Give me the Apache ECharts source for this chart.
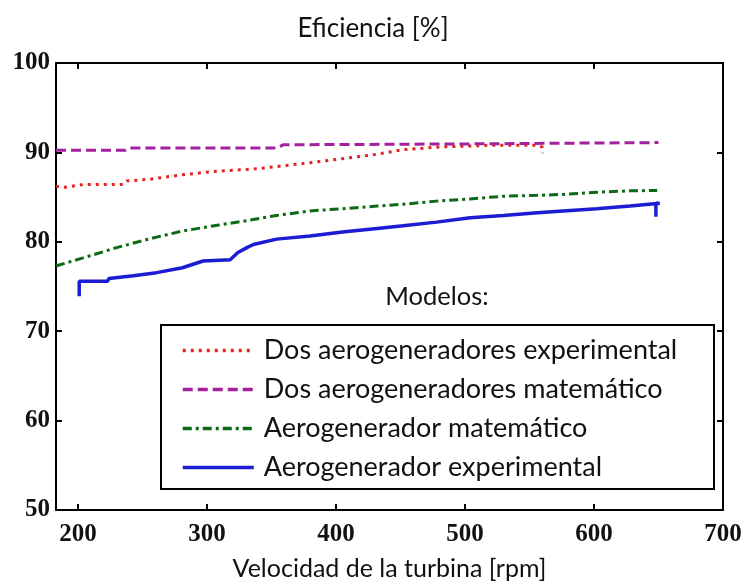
<!DOCTYPE html>
<html><head><meta charset="utf-8">
<script src="https://cdn.jsdelivr.net/npm/echarts@6/dist/echarts.min.js"></script>
<style>html,body{margin:0;padding:0;background:#fff}#c{width:746px;height:582px}</style>
</head><body><div id="c"></div>
<script>
var xTicks = [200, 300, 400, 500, 600, 700];
var yTicks = [50, 60, 70, 80, 90, 100];

var rpmDosExp = [183, 190, 204, 235, 238, 256, 281, 308, 341, 380, 405, 432, 452, 480, 520, 555, 560, 560];
var dosExp    = [86.2, 86.1, 86.4, 86.4, 86.8, 87.0, 87.5, 87.9, 88.2, 88.85, 89.3, 89.8, 90.3, 90.6, 90.8, 90.8, 90.6, 89.9];

var rpmDosMat = [183, 237, 240, 355, 359, 500, 650];
var dosMat    = [90.25, 90.25, 90.5, 90.5, 90.85, 90.95, 91.1];

var rpmAeroMat = [183, 204, 230, 256, 281, 308, 328, 354, 380, 405, 432, 452, 478, 504, 530, 556, 576, 602, 628, 649];
var aeroMat    = [77.3, 78.2, 79.35, 80.35, 81.2, 81.85, 82.3, 82.95, 83.45, 83.7, 84.0, 84.2, 84.55, 84.8, 85.1, 85.2, 85.3, 85.55, 85.7, 85.75];

var rpmAeroExp = [201, 201, 203, 223, 224, 243, 261, 281, 297, 318, 324, 331, 336, 354, 380, 405, 432, 452, 478, 504, 530, 556, 576, 602, 628, 651, 648, 648];
var aeroExp    = [73.9, 75.6, 75.6, 75.6, 75.9, 76.2, 76.55, 77.1, 77.85, 78.0, 78.8, 79.35, 79.7, 80.3, 80.65, 81.1, 81.5, 81.8, 82.2, 82.7, 82.95, 83.25, 83.45, 83.7, 84.0, 84.3, 84.3, 82.8];

var names = ['Dos aerogeneradores experimental', 'Dos aerogeneradores matemático', 'Aerogenerador matemático', 'Aerogenerador experimental'];

function pairs(xs, ys) { return xs.map(function (x, i) { return [x, ys[i]]; }); }

var sansFont = 'Lato, "Open Sans", sans-serif';
var serifFont = '"Liberation Serif", "DejaVu Serif", serif';

// pick a font size so a text fits a target width (layout only)
var mctx = document.createElement('canvas').getContext('2d');
function fitSize(text, target, weight) {
  mctx.font = (weight || 'normal') + ' 100px ' + sansFont;
  var w = mctx.measureText(text).width;
  return Math.round(100 * target / w * 2) / 2;
}
var titleSize = fitSize('Eficiencia [%]', 151);
var xNameSize = fitSize('Velocidad de la turbina [rpm]', 313);
var legendSize = fitSize(names[0], 410);
var modelosSize = fitSize('Modelos:', 103);

var chart = echarts.init(document.getElementById('c'), null, {renderer: 'canvas'});
var axisLine = {show: true, lineStyle: {color: '#000', width: 2}};
chart.setOption({
  animation: false,
  backgroundColor: '#fff',
  title: {
    text: 'Eficiencia [%]', left: 'center', top: 11,
    textStyle: {fontFamily: sansFont, fontSize: titleSize, fontWeight: 'normal', color: '#111'}
  },
  grid: {left: 56, right: 23, top: 63, bottom: 72, containLabel: false, outerBoundsMode: 'none'},
  xAxis: [{
    type: 'value', min: 183, max: 700,
    name: 'Velocidad de la turbina [rpm]', nameLocation: 'middle', nameGap: 46,
    nameTextStyle: {fontFamily: sansFont, fontSize: xNameSize, color: '#111'},
    axisLine: axisLine,
    axisTick: {show: true, inside: true, length: 6, customValues: xTicks, lineStyle: {color: '#000', width: 2}},
    axisLabel: {customValues: xTicks, fontFamily: serifFont, fontSize: 25, fontWeight: 'bold', color: '#111', margin: 12},
    splitLine: {show: false}
  }, {
    type: 'value', min: 183, max: 700, position: 'top',
    axisLine: axisLine,
    axisTick: {show: true, inside: true, length: 6, customValues: xTicks, lineStyle: {color: '#000', width: 2}},
    axisLabel: {show: false}, splitLine: {show: false}
  }],
  yAxis: [{
    type: 'value', min: 50, max: 100, interval: 10,
    axisLine: axisLine,
    axisTick: {show: true, inside: true, length: 6, lineStyle: {color: '#000', width: 2}},
    axisLabel: {fontFamily: serifFont, fontSize: 25, fontWeight: 'bold', color: '#111', margin: 6},
    splitLine: {show: false}
  }, {
    type: 'value', min: 50, max: 100, interval: 10, position: 'right',
    axisLine: axisLine,
    axisTick: {show: true, inside: true, length: 6, lineStyle: {color: '#000', width: 2}},
    axisLabel: {show: false}, splitLine: {show: false}
  }],
  legend: {
    orient: 'vertical', left: 176, top: 332, z: 10,
    itemWidth: 71, itemHeight: 14, itemGap: 12,
    data: names,
    itemStyle: {opacity: 0},
    lineStyle: {width: 3.5},
    textStyle: {fontFamily: sansFont, fontSize: legendSize, color: '#111', lineHeight: 26, padding: [0, 0, 0, 5]}
  },
  graphic: [
    {type: 'rect', shape: {x: 161, y: 325, width: 553, height: 164},
     style: {fill: '#fff', stroke: '#000', lineWidth: 2}, z: 1},
    {type: 'text', x: 437, y: 297,
     style: {text: 'Modelos:', fontFamily: sansFont, fontSize: modelosSize, fill: '#111', align: 'center', verticalAlign: 'middle'}, z: 5}
  ],
  series: [
    {name: names[0], type: 'line', data: pairs(rpmDosExp, dosExp), symbol: 'none', color: '#e3231d',
     lineStyle: {width: 3, type: [3, 5], color: '#e3231d'}},
    {name: names[1], type: 'line', data: pairs(rpmDosMat, dosMat), symbol: 'none', color: '#a3219f',
     lineStyle: {width: 3, type: [10, 5], color: '#a3219f'}},
    {name: names[2], type: 'line', data: pairs(rpmAeroMat, aeroMat), symbol: 'none', color: '#0d6a14',
     lineStyle: {width: 3, type: [9, 4, 3, 4], color: '#0d6a14'}},
    {name: names[3], type: 'line', data: pairs(rpmAeroExp, aeroExp), symbol: 'none', color: '#1c1cd4',
     lineStyle: {width: 3.5, color: '#1c1cd4'}}
  ]
});
</script></body></html>
